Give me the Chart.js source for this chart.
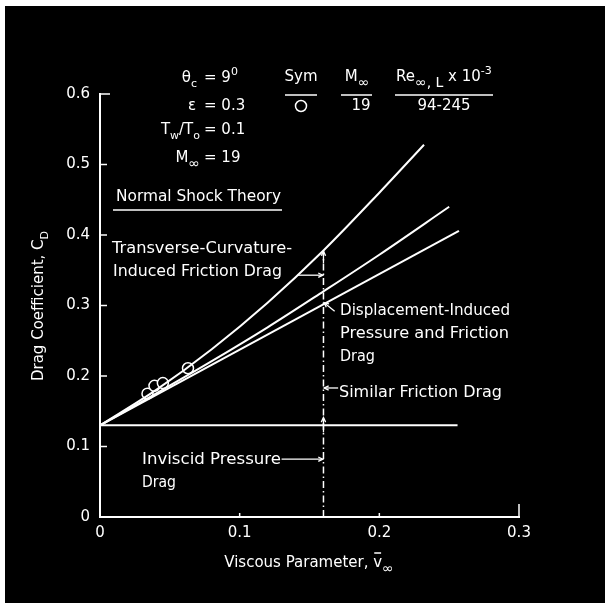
<!DOCTYPE html>
<html>
<head>
<meta charset="utf-8">
<script src="https://cdn.jsdelivr.net/npm/chart.js@4.4.0/dist/chart.umd.min.js"></script>
<style>
  html, body { margin: 0; padding: 0; background: #fff; }
  #wrap { width: 605px; height: 603px; position: relative; }
</style>
</head>
<body>
<div id="wrap"><canvas id="myChart"></canvas></div>
<script>
const FONT = '"DejaVu Sans", "Liberation Sans", sans-serif'

const xTicks = [0, 0.1, 0.2, 0.3]
const yTicks = [0, 0.1, 0.2, 0.3, 0.4, 0.5, 0.6]

// data points, Sym O, M = 19, Re = 94-245 x 10^3
const testX = [0.034, 0.039, 0.045, 0.063]
const testY = [0.175, 0.186, 0.190, 0.211]

// transverse-curvature-induced friction (top curve)
const transverseX = [0, 0.04, 0.08, 0.12, 0.16, 0.20, 0.232]
const transverseY = [0.13, 0.180, 0.238, 0.304, 0.378, 0.460, 0.528]

// displacement-induced pressure and friction (middle curve)
const displacementX = [0, 0.04, 0.08, 0.12, 0.16, 0.20, 0.25]
const displacementY = [0.13, 0.175, 0.221, 0.269, 0.320, 0.372, 0.440]

// similar friction (bottom line)
const similarX = [0, 0.257]
const similarY = [0.13, 0.406]

// inviscid pressure drag, normal shock theory
const inviscidX = [0, 0.256]
const inviscidY = [0.13, 0.13]

// dash-dot marker at vbar = 0.16
const markerX = [0.16, 0.16]
const markerY = [0, 0.378]

// leader arrows [x0, y0, x1, y1], head at x1,y1
const arrows = [
  [0.1414, 0.343, 0.1595, 0.343],
  [0.168, 0.292, 0.1605, 0.304],
  [0.1705, 0.183, 0.1605, 0.183],
  [0.130, 0.082, 0.1595, 0.082],
  [0.16, 0.36, 0.16, 0.377],
  [0.16, 0.12, 0.16, 0.141]
]

const pts = (xs, ys) => xs.map((x, i) => ({ x: x, y: ys[i] }))

const lineSet = (xs, ys, extra) => Object.assign({
  data: pts(xs, ys),
  borderColor: '#fff',
  borderWidth: 2,
  pointRadius: 0,
  fill: false,
  showLine: true
}, extra || {})

function arrowHead(ctx, x0, y0, x1, y1, len) {
  const a = Math.atan2(y1 - y0, x1 - x0)
  ctx.beginPath()
  ctx.moveTo(x1 - len * Math.cos(a - 0.45), y1 - len * Math.sin(a - 0.45))
  ctx.lineTo(x1, y1)
  ctx.lineTo(x1 - len * Math.cos(a + 0.45), y1 - len * Math.sin(a + 0.45))
  ctx.stroke()
}

// draws a sequence of text runs with sub/superscripts
function runs(ctx, parts, x, y, align, size) {
  const fontOf = p => {
    let s = size
    if (p.sub || p.sup) s = p.t.indexOf('∞') >= 0 ? size * 0.95 : size * 0.75
    return Math.round(s) + 'px ' + FONT
  }
  let w = 0
  parts.forEach(p => { ctx.font = fontOf(p); w += ctx.measureText(p.t).width })
  let cx = align === 'right' ? x - w : align === 'center' ? x - w / 2 : x
  const pos = []
  parts.forEach(p => {
    ctx.font = fontOf(p)
    const dy = p.sub ? size * 0.42 : p.sup ? -size * 0.4 : 0
    ctx.textAlign = 'left'
    ctx.fillText(p.t, cx, y + dy)
    const pw = ctx.measureText(p.t).width
    pos.push([cx, pw])
    cx += pw
  })
  return pos
}

// single line label stretched to the width it has in the figure
function label(ctx, text, x, y, width, size) {
  ctx.font = size + 'px ' + FONT
  const k = width / ctx.measureText(text).width
  ctx.save()
  ctx.translate(x, y)
  ctx.scale(k, 1)
  ctx.textAlign = 'left'
  ctx.fillText(text, 0, 0)
  ctx.restore()
}

const background = {
  id: 'background',
  beforeDraw(chart) {
    const ctx = chart.ctx
    ctx.save()
    ctx.fillStyle = '#fff'
    ctx.fillRect(0, 0, chart.width, chart.height)
    ctx.fillStyle = '#000'
    ctx.fillRect(5, 6, chart.width - 5, chart.height - 6)
    ctx.restore()
  }
}

const annotations = {
  id: 'annotations',
  afterDraw(chart) {
    const ctx = chart.ctx
    const xs = chart.scales.x, ys = chart.scales.y
    const left = xs.left, bottom = ys.bottom
    ctx.save()
    ctx.strokeStyle = '#fff'
    ctx.fillStyle = '#fff'
    ctx.lineWidth = 1.5

    // inward tick marks
    yTicks.forEach(v => {
      if (v === 0) return
      const py = ys.getPixelForValue(v)
      ctx.beginPath()
      ctx.moveTo(left, py)
      ctx.lineTo(left + (v === 0.6 ? 10 : 7), py)
      ctx.stroke()
    })
    xTicks.forEach(v => {
      if (v === 0) return
      const px = xs.getPixelForValue(v)
      ctx.beginPath()
      ctx.moveTo(px, bottom)
      ctx.lineTo(px, bottom - (v === 0.3 ? 13 : 4))
      ctx.stroke()
    })

    // leader arrows
    ctx.lineWidth = 1.3
    arrows.forEach(a => {
      const x0 = xs.getPixelForValue(a[0]), y0 = ys.getPixelForValue(a[1])
      const x1 = xs.getPixelForValue(a[2]), y1 = ys.getPixelForValue(a[3])
      ctx.beginPath()
      ctx.moveTo(x0, y0)
      ctx.lineTo(x1, y1)
      ctx.stroke()
      arrowHead(ctx, x0, y0, x1, y1, 5)
    })

    ctx.textBaseline = 'middle'
    const S = 15
    const L = 16

    // parameters block
    runs(ctx, [{ t: 'θ' }, { t: 'c', sub: true }], 197, 78, 'right', S)
    runs(ctx, [{ t: '= 9' }, { t: '0', sup: true }], 204, 78, 'left', S)
    runs(ctx, [{ t: 'ε' }], 196, 106, 'right', S)
    runs(ctx, [{ t: '= 0.3' }], 204, 106, 'left', S)
    runs(ctx, [{ t: 'T' }, { t: 'w', sub: true }, { t: '/T' }, { t: 'o', sub: true }], 200, 130, 'right', S)
    runs(ctx, [{ t: '= 0.1' }], 204, 130, 'left', S)
    runs(ctx, [{ t: 'M' }, { t: '∞', sub: true }], 200, 158, 'right', S)
    runs(ctx, [{ t: '= 19' }], 204, 158, 'left', S)

    // symbol table
    runs(ctx, [{ t: 'Sym' }], 301, 77, 'center', S)
    runs(ctx, [{ t: 'M' }, { t: '∞', sub: true }], 357, 77, 'center', S)
    runs(ctx, [{ t: 'Re' }, { t: '∞, L', sub: true }, { t: ' x 10' }, { t: '-3', sup: true }], 396, 77, 'left', S)
    ctx.lineWidth = 1.5
    ;[[285, 317], [341, 372], [395, 493]].forEach(u => {
      ctx.beginPath(); ctx.moveTo(u[0], 95); ctx.lineTo(u[1], 95); ctx.stroke()
    })
    ctx.beginPath(); ctx.arc(301, 106, 5.5, 0, Math.PI * 2); ctx.stroke()
    runs(ctx, [{ t: '19' }], 361, 106, 'center', S)
    runs(ctx, [{ t: '94-245' }], 444, 106, 'center', S)

    // curve labels
    label(ctx, 'Normal Shock Theory', 116, 197, 165, L)
    ctx.beginPath(); ctx.moveTo(113, 210); ctx.lineTo(282, 210); ctx.stroke()
    label(ctx, 'Transverse-Curvature-', 112, 249, 180, L)
    label(ctx, 'Induced Friction Drag', 113, 272, 169, L)
    label(ctx, 'Displacement-Induced', 340, 311, 170, L)
    label(ctx, 'Pressure and Friction', 340, 334, 169, L)
    label(ctx, 'Drag', 340, 357, 35, L)
    label(ctx, 'Similar Friction Drag', 339, 393, 163, L)
    label(ctx, 'Inviscid Pressure', 142, 460, 139, L)
    label(ctx, 'Drag', 142, 483, 34, L)

    // axis titles
    const xp = runs(ctx, [{ t: 'Viscous Parameter, ' }, { t: 'v' }, { t: '∞', sub: true }], 309, 563, 'center', S)
    ctx.beginPath(); ctx.moveTo(xp[1][0] + 1, 553); ctx.lineTo(xp[1][0] + xp[1][1] - 1, 553); ctx.stroke()

    ctx.translate(39, 306)
    ctx.rotate(-Math.PI / 2)
    runs(ctx, [{ t: 'Drag Coefficient, C' }, { t: 'D', sub: true }], 0, 0, 'center', S)
    ctx.restore()
  }
}

const el = document.getElementById('myChart')

new Chart(el, {
  type: 'scatter',
  data: {
    datasets: [
      lineSet(inviscidX, inviscidY),
      lineSet(similarX, similarY),
      lineSet(displacementX, displacementY, { cubicInterpolationMode: 'monotone' }),
      lineSet(transverseX, transverseY, { cubicInterpolationMode: 'monotone' }),
      lineSet(markerX, markerY, { borderWidth: 1.5, borderDash: [7, 3, 1.5, 3] }),
      {
        data: pts(testX, testY),
        showLine: false,
        pointStyle: 'circle',
        pointRadius: 5.5,
        borderWidth: 1.5,
        borderColor: '#fff',
        backgroundColor: '#000'
      }
    ]
  },
  options: {
    responsive: true,
    maintainAspectRatio: false,
    animation: false,
    layout: { padding: { left: 0, top: 94, right: 86, bottom: 0 } },
    plugins: { legend: { display: false }, tooltip: { enabled: false } },
    scales: {
      x: {
        type: 'linear',
        min: 0,
        max: 0.3,
        afterBuildTicks: s => { s.ticks = xTicks.map(v => ({ value: v })) },
        afterFit: s => { s.height = 86 },
        ticks: {
          color: '#fff',
          font: { family: FONT, size: 15 },
          padding: 7,
          maxRotation: 0,
          callback: v => v === 0 ? '0' : v.toFixed(1)
        },
        grid: { drawOnChartArea: false, drawTicks: false, color: 'rgba(0,0,0,0)' },
        border: { display: true, color: '#fff', width: 2 }
      },
      y: {
        type: 'linear',
        min: 0,
        max: 0.6,
        afterBuildTicks: s => { s.ticks = yTicks.map(v => ({ value: v })) },
        afterFit: s => { s.width = 100 },
        ticks: {
          color: '#fff',
          font: { family: FONT, size: 15 },
          padding: 10,
          callback: v => v === 0 ? '0' : v.toFixed(1)
        },
        grid: { drawOnChartArea: false, drawTicks: false, color: 'rgba(0,0,0,0)' },
        border: { display: true, color: '#fff', width: 2 }
      }
    }
  },
  plugins: [background, annotations]
})
</script>
</body>
</html>
